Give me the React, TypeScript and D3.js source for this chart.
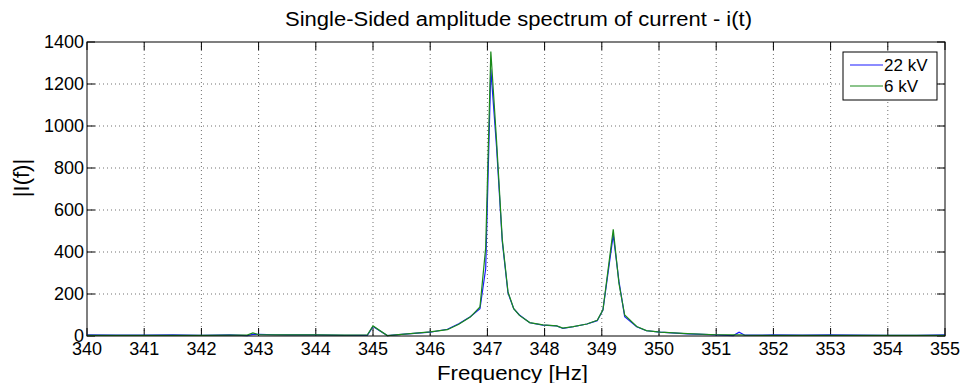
import React from "react";
import * as d3 from "d3";

const freq = [340.0, 340.5, 341.0, 341.5, 342.0, 342.5, 342.8, 342.9, 343.0, 343.3, 343.5, 344.0, 344.5, 344.9, 345.0, 345.25, 345.5, 346.0, 346.3, 346.5, 346.7, 346.87, 346.97, 347.06, 347.16, 347.26, 347.36, 347.46, 347.56, 347.74, 347.97, 348.21, 348.32, 348.5, 348.74, 348.92, 349.02, 349.2, 349.3, 349.4, 349.61, 349.78, 350.02, 350.5, 351.0, 351.3, 351.4, 351.5, 352.0, 352.5, 353.0, 353.5, 354.0, 354.5, 355.0];
const kv22 = [5, 4, 4, 5, 3, 5, 2, 8, 8, 6, 5, 5, 3, 3, 45, 2, 8, 18, 32, 58, 92, 130, 320, 1270, 900, 450, 205, 130, 100, 63, 52, 48, 36, 44, 57, 73, 124, 481, 260, 92, 44, 25, 18, 10, 5, 2, 18, 4, 5, 4, 5, 4, 3, 3, 5];
const kv6 = [3, 3, 3, 3, 3, 4, 4, 15, 6, 5, 5, 5, 4, 5, 48, 2, 8, 20, 30, 56, 90, 138, 420, 1355, 930, 460, 210, 130, 98, 64, 53, 48, 38, 45, 57, 75, 125, 508, 250, 100, 45, 26, 18, 11, 6, 5, 6, 4, 3, 3, 3, 3, 3, 3, 3];
const xTicks = [340, 341, 342, 343, 344, 345, 346, 347, 348, 349, 350, 351, 352, 353, 354, 355];
const yTicks = [0, 200, 400, 600, 800, 1000, 1200, 1400];
const seriesNames = ["22 kV", "6 kV"];
const seriesColors = ["#1a1aff", "#1a8a1a"];

const W = 963, H = 383;
const L = 87, R = 945, T = 42, B = 336;
const FONT = "Arial, 'Liberation Sans', sans-serif";

export default function App() {
  const x = d3.scaleLinear().domain([340, 355]).range([L, R]);
  const y = d3.scaleLinear().domain([0, 1400]).range([B, T]);
  const line = d3.line<number>().x((_, i) => x(freq[i])).y((d) => y(d));
  const series = [kv22, kv6];
  return (
    <svg width={W} height={H} style={{ position: "absolute", left: 0, top: 0, background: "#fff" }} fontFamily={FONT}>
      <rect x={0} y={0} width={W} height={H} fill="#fff" />
      {xTicks.slice(1, -1).map((t) => (
        <line key={"gx" + t} x1={x(t)} x2={x(t)} y1={T} y2={B} stroke="#333" strokeWidth={0.7} strokeDasharray="1,3" />
      ))}
      {yTicks.slice(1, -1).map((t) => (
        <line key={"gy" + t} x1={L} x2={R} y1={y(t)} y2={y(t)} stroke="#333" strokeWidth={0.7} strokeDasharray="1,3" />
      ))}
      {xTicks.map((t) => (
        <g key={"tx" + t}>
          <line x1={x(t)} x2={x(t)} y1={B} y2={B - 8} stroke="#000" />
          <line x1={x(t)} x2={x(t)} y1={T} y2={T + 8} stroke="#000" />
          <text x={x(t)} y={B + 19} fontSize={18} textAnchor="middle">{t}</text>
        </g>
      ))}
      {yTicks.map((t) => (
        <g key={"ty" + t}>
          <line x1={L} x2={L + 8} y1={y(t)} y2={y(t)} stroke="#000" />
          <line x1={R} x2={R - 8} y1={y(t)} y2={y(t)} stroke="#000" />
          <text x={L - 3} y={y(t) + 6} fontSize={18} textAnchor="end">{t}</text>
        </g>
      ))}
      {series.map((s, i) => (
        <path key={"s" + i} d={line(s) || ""} fill="none" stroke={seriesColors[i]} strokeWidth={1.2} />
      ))}
      <rect x={L} y={T} width={R - L} height={B - T} fill="none" stroke="#000" strokeWidth={1} />
      <rect x={843} y={52} width={94} height={48} fill="#fff" stroke="#000" strokeWidth={1} />
      {seriesNames.map((n, i) => (
        <g key={"lg" + i}>
          <line x1={850} x2={883} y1={65 + i * 21} y2={65 + i * 21} stroke={seriesColors[i]} strokeWidth={1.2} />
          <text x={884} y={71 + i * 21} fontSize={17}>{n}</text>
        </g>
      ))}
      <text x={518.5} y={26} fontSize={20} textAnchor="middle" textLength={467} lengthAdjust="spacingAndGlyphs">Single-Sided amplitude spectrum of current - i(t)</text>
      <text x={512.5} y={380} fontSize={21} textAnchor="middle" textLength={151} lengthAdjust="spacingAndGlyphs">Frequency [Hz]</text>
      <text transform={`translate(29,178) rotate(-90)`} fontSize={22} textAnchor="middle">|I(f)|</text>
    </svg>
  );
}
